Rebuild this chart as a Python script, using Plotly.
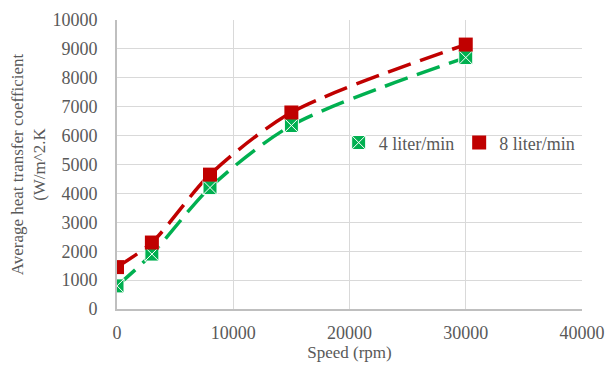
import plotly.graph_objects as go

speed = [0, 3000, 8000, 15000, 30000]
htc_4 = [800, 1900, 4200, 6350, 8700]
htc_8 = [1450, 2300, 4650, 6800, 9150]
names = ["4 liter/min", "8 liter/min"]
colors = ["#00B050", "#C00000"]
symbols = ["square-x", "square"]

fig = go.Figure()
for ys, nm, c, s in zip([htc_4, htc_8], names, colors, symbols):
    fig.add_trace(go.Scatter(
        x=speed, y=ys, name=nm, mode="lines", showlegend=False,
        line=dict(color=c, width=3.5, dash="24px,10px", shape="spline", smoothing=0.8),
    ))
for ys, nm, c, s in zip([htc_4, htc_8], names, colors, symbols):
    fig.add_trace(go.Scatter(
        x=speed, y=ys, name=nm, mode="markers",
        marker=dict(symbol=s, size=14, color=c, line=dict(color="white", width=1 if s == "square-x" else 0)),
    ))

font_family = "Liberation Serif, Times New Roman, serif"
fig.update_layout(
    width=600, height=354,
    margin=dict(l=109, r=26, t=12, b=53),
    paper_bgcolor="white", plot_bgcolor="white",
    font=dict(family=font_family, size=18, color="#595959"),
    legend=dict(orientation="h", x=0.995, xanchor="right", y=0.575, yanchor="middle",
                bgcolor="rgba(0,0,0,0)", font=dict(family=font_family, size=18, color="#595959"),
                itemwidth=30, traceorder="normal", tracegroupgap=0),
    xaxis=dict(range=[0, 40000], dtick=10000, tickformat="d", showgrid=True, gridcolor="#D9D9D9", gridwidth=1,
               showline=True, linecolor="#BFBFBF", linewidth=2, zeroline=False, automargin=False,
               ticks="", ticklabelstandoff=6,
               tickfont=dict(family=font_family, size=18, color="#595959"),
               title=dict(text="Speed (rpm)", font=dict(family=font_family, size=17, color="#595959"), standoff=12)),
    yaxis=dict(range=[0, 10000], dtick=1000, tickformat="d", showgrid=True, gridcolor="#D9D9D9", gridwidth=1,
               showline=True, linecolor="#BFBFBF", linewidth=2, zeroline=False, automargin=False,
               ticks="", ticklabelstandoff=14,
               tickfont=dict(family=font_family, size=18, color="#595959"),
               title=dict(text="Average heat transfer coefficient<br>(W/m^2.K",
                          font=dict(family=font_family, size=17, color="#595959"), standoff=4)),
)
fig.write_html("out.html")
